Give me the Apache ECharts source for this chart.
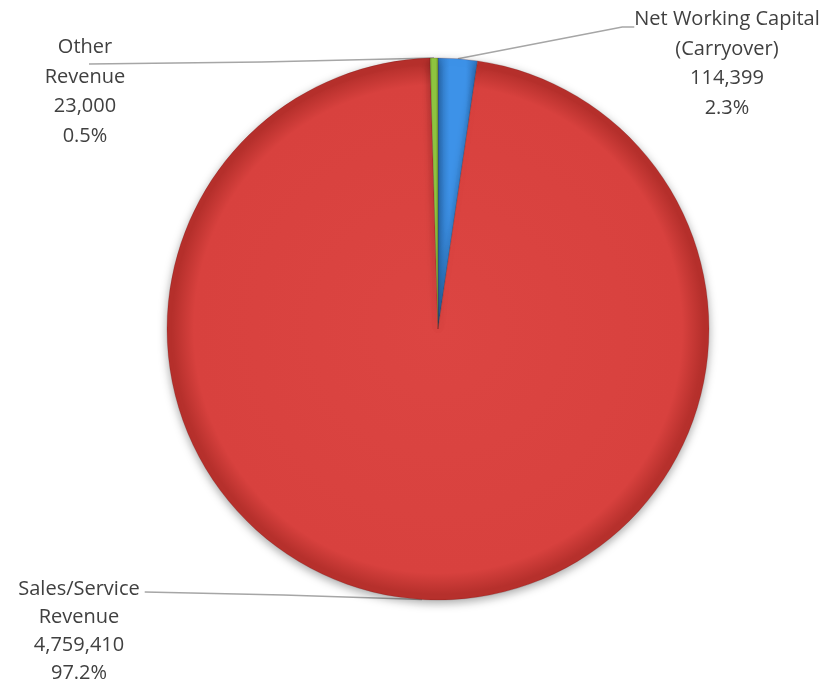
<!DOCTYPE html>
<html>
<head>
<meta charset="utf-8">
<script src="https://cdn.jsdelivr.net/npm/echarts@6/dist/echarts.min.js"></script>
<style>
  html, body { margin: 0; padding: 0; background: #ffffff; }
  #chart { width: 831px; height: 685px; }
</style>
</head>
<body>
<div id="chart"></div>
<script>
// Funding sources, clockwise from twelve o'clock
const categories = ['Net Working Capital\n(Carryover)', 'Sales/Service\nRevenue', 'Other\nRevenue'];
const amounts = [114399, 4759410, 23000];

// Bevelled slice fills: light centre, darker rim
function radialFill(inner, mid, rim) {
  return new echarts.graphic.RadialGradient(0.5, 0.5, 0.5, [
    { offset: 0, color: inner },
    { offset: 0.9, color: mid },
    { offset: 0.978, color: rim },
    { offset: 1, color: rim }
  ]);
}
function stripFill(edge, centre) {
  return new echarts.graphic.LinearGradient(0, 0, 1, 0, [
    { offset: 0, color: edge },
    { offset: 0.3, color: centre },
    { offset: 0.7, color: centre },
    { offset: 1, color: edge }
  ]);
}
const fills = [
  stripFill('#2f78c4', '#3d92e8'),
  radialFill('#dc4542', '#d8413e', '#b6302c'),
  stripFill('#6e9e2c', '#8fc640')
];

// Where each label block sits (top-centre) and its line spacing
const labelSpots = [
  { cx: 727, top: 5, lh: 29.5 },
  { cx: 79, top: 575, lh: 28 },
  { cx: 85, top: 33, lh: 29.5 }
];

const chart = echarts.init(document.getElementById('chart'));

const fmt = n => n.toLocaleString('en-US');

chart.setOption({
  animation: false,
  backgroundColor: '#ffffff',
  series: [{
    type: 'pie',
    center: [438, 329],
    radius: [0, 271],
    startAngle: 90,
    clockwise: true,
    avoidLabelOverlap: false,
    percentPrecision: 1,
    data: categories.map((name, i) => ({
      name: name,
      value: amounts[i],
      itemStyle: { color: fills[i] },
      label: { lineHeight: labelSpots[i].lh }
    })),
    itemStyle: {
      shadowBlur: 10,
      shadowColor: 'rgba(0,0,0,0.35)',
      shadowOffsetY: 3,
      borderColor: 'rgba(90,20,20,0.35)',
      borderWidth: 0.6
    },
    label: {
      show: true,
      position: 'outside',
      formatter: p => p.name + '\n' + fmt(p.value) + '\n' + p.percent.toFixed(1) + '%',
      fontFamily: 'Open Sans',
      fontSize: 20,
      color: '#404040',
      align: 'center',
      textAlign: 'center'
    },
    labelLine: {
      show: true,
      lineStyle: { color: '#a6a6a6', width: 1.5 }
    },
    emphasis: { disabled: true },
    labelLayout: function (params) {
      const spot = labelSpots[params.dataIndex];
      const w = params.labelRect.width;
      const left = spot.cx - w / 2;
      const start = params.labelLinePoints ? params.labelLinePoints[0] : null;
      let pts = null;
      if (start) {
        if (params.dataIndex === 0) {
          // elbow into the first line of the block
          pts = [start, [left - 12, spot.top + 22], [left, spot.top + 22]];
        } else if (params.dataIndex === 1) {
          pts = [start, [(start[0] + left + w + 5) / 2, spot.top + 20], [left + w + 5, spot.top + 17]];
        } else {
          pts = [start, [(start[0] + spot.cx + 4) / 2, spot.top + 29], [spot.cx + 4, spot.top + 31]];
        }
      }
      const out = { x: spot.cx, y: spot.top, align: 'center', verticalAlign: 'top' };
      if (pts) out.labelLinePoints = pts;
      return out;
    }
  }]
});
</script>
</body>
</html>
